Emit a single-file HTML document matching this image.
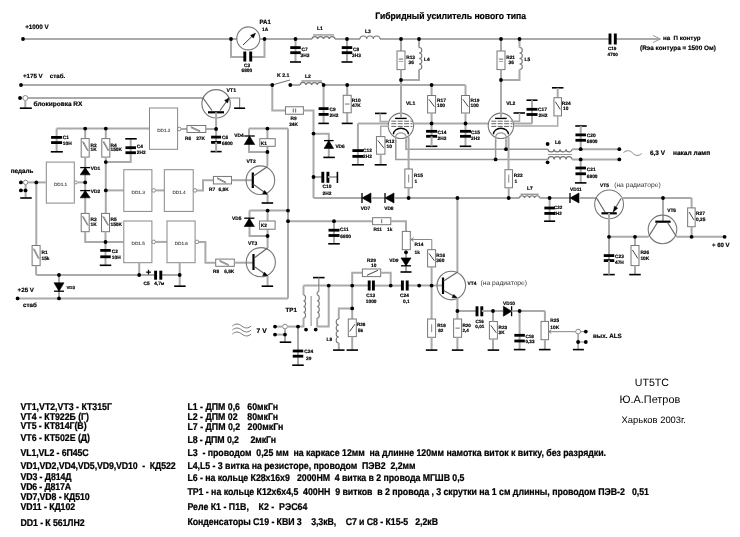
<!DOCTYPE html>
<html><head><meta charset="utf-8"><style>
html,body{margin:0;padding:0;background:#fff;width:740px;height:537px;overflow:hidden}
svg{display:block;filter:grayscale(1)}
text{font-family:"Liberation Sans",sans-serif;text-rendering:geometricPrecision;white-space:pre}
</style></head><body>
<svg width="740" height="537" viewBox="0 0 740 537">
<rect width="740" height="537" fill="#fff"/>
<text x="25.2" y="29" font-size="6.3" font-weight="bold" fill="#000" stroke="#000" stroke-width="0.18" xml:space="preserve">+1000 V</text>
<text transform="translate(375.3,19.1) scale(1,1.08)" x="0" y="0" font-size="8.62" font-weight="bold" fill="#000" stroke="#000" stroke-width="0.2" xml:space="preserve">Гибридный усилитель нового типа</text>
<polyline points="23,39 237,39" fill="none" stroke="#aaa" stroke-width="2"/>
<polyline points="260,39 312,39" fill="none" stroke="#aaa" stroke-width="2"/>
<polyline points="335,39 360,39" fill="none" stroke="#aaa" stroke-width="2"/>
<polyline points="380,39 610,39" fill="none" stroke="#aaa" stroke-width="2"/>
<polyline points="615,39 660,39" fill="none" stroke="#aaa" stroke-width="2"/>
<circle cx="248.3" cy="38.4" r="11.5" fill="none" stroke="#777" stroke-width="1.1"/>
<polyline points="243,45 254,34.5" fill="none" stroke="#222" stroke-width="0.9"/>
<path d="M255.4,33.2 L250.6,35.4 L253.4,38 Z" fill="#000" stroke="#000" stroke-width="0.6"/>
<polyline points="231,39 231,57 244.5,57" fill="none" stroke="#aaa" stroke-width="2"/>
<polyline points="251,57 264.5,57 264.5,39" fill="none" stroke="#aaa" stroke-width="2"/>
<rect x="243.35" y="51.5" width="2.9" height="10" fill="#000"/>
<rect x="249.25" y="51.5" width="2.9" height="10" fill="#000"/>
<text x="259.5" y="24.3" font-size="6.1" font-weight="bold" fill="#000" stroke="#000" stroke-width="0.18" xml:space="preserve">PA1</text>
<text x="262" y="30.5" font-size="4.8" font-weight="bold" fill="#000" stroke="#000" stroke-width="0.18" xml:space="preserve">1A</text>
<text x="244" y="66.5" font-size="4.8" font-weight="bold" fill="#000" stroke="#000" stroke-width="0.18" xml:space="preserve">C3</text>
<text x="241.5" y="72" font-size="4.8" font-weight="bold" fill="#000" stroke="#000" stroke-width="0.18" xml:space="preserve">6800</text>
<polyline points="295.5,39 295.5,61.5" fill="none" stroke="#aaa" stroke-width="2"/>
<rect x="290.25" y="46.2" width="10.5" height="2.8" fill="#000"/>
<rect x="290.25" y="51.3" width="10.5" height="2.8" fill="#000"/>
<rect x="290" y="61.2" width="11" height="1.6" fill="#000"/>
<text x="301.5" y="51" font-size="4.8" font-weight="bold" fill="#000" stroke="#000" stroke-width="0.18" xml:space="preserve">C7</text>
<text x="300.5" y="57.3" font-size="4.8" font-weight="bold" fill="#000" stroke="#000" stroke-width="0.18" xml:space="preserve">3H3</text>
<path d="M312,39 A2.88,2.59 0 0 1 317.75,39 A2.88,2.59 0 0 1 323.5,39 A2.88,2.59 0 0 1 329.25,39 A2.88,2.59 0 0 1 335,39" fill="none" stroke="#777" stroke-width="1.2"/>
<polyline points="313,34.91 334,34.91" fill="none" stroke="#888" stroke-width="1.2"/>
<text x="317" y="30.3" font-size="5" font-weight="bold" fill="#000" stroke="#000" stroke-width="0.18" xml:space="preserve">L1</text>
<polyline points="347,39 347,61.5" fill="none" stroke="#aaa" stroke-width="2"/>
<rect x="341.75" y="46.2" width="10.5" height="2.8" fill="#000"/>
<rect x="341.75" y="51.3" width="10.5" height="2.8" fill="#000"/>
<rect x="341.5" y="61.2" width="11" height="1.6" fill="#000"/>
<text x="353" y="51" font-size="4.8" font-weight="bold" fill="#000" stroke="#000" stroke-width="0.18" xml:space="preserve">C8</text>
<text x="352" y="57.3" font-size="4.8" font-weight="bold" fill="#000" stroke="#000" stroke-width="0.18" xml:space="preserve">3H3</text>
<path d="M360,39 A3.33,3 0 0 1 366.67,39 A3.33,3 0 0 1 373.33,39 A3.33,3 0 0 1 380,39" fill="none" stroke="#777" stroke-width="1.2"/>
<text x="365" y="32.5" font-size="5" font-weight="bold" fill="#000" stroke="#000" stroke-width="0.18" xml:space="preserve">L3</text>
<polyline points="401,39 401,51" fill="none" stroke="#aaa" stroke-width="2"/>
<rect x="397" y="51" width="8" height="18.6" fill="#fff" stroke="#777" stroke-width="1"/>
<polyline points="398.8,59.1 403.2,59.1" fill="none" stroke="#666" stroke-width="1"/>
<polyline points="398.8,61.5 403.2,61.5" fill="none" stroke="#aaa" stroke-width="1"/>
<polyline points="401,69.6 401,115" fill="none" stroke="#aaa" stroke-width="2"/>
<polyline points="419,39 419,47.5" fill="none" stroke="#aaa" stroke-width="2"/>
<path d="M419,47.5 A2.8,2.75 0 0 1 419,53 A2.8,2.75 0 0 1 419,58.5 A2.8,2.75 0 0 1 419,64 A2.8,2.75 0 0 1 419,69.5" fill="none" stroke="#777" stroke-width="1.1"/>
<polyline points="419,69.5 419,80 401,80" fill="none" stroke="#aaa" stroke-width="2"/>
<text x="406.2" y="58.5" font-size="4.8" font-weight="bold" fill="#000" stroke="#000" stroke-width="0.18" xml:space="preserve">R13</text>
<text x="408.5" y="63.7" font-size="4.8" font-weight="bold" fill="#000" stroke="#000" stroke-width="0.18" xml:space="preserve">36</text>
<text x="424" y="61.3" font-size="4.8" font-weight="bold" fill="#000" stroke="#000" stroke-width="0.18" xml:space="preserve">L4</text>
<polyline points="501,39 501,51" fill="none" stroke="#aaa" stroke-width="2"/>
<rect x="497" y="51" width="8" height="18.6" fill="#fff" stroke="#777" stroke-width="1"/>
<polyline points="498.8,59.1 503.2,59.1" fill="none" stroke="#666" stroke-width="1"/>
<polyline points="498.8,61.5 503.2,61.5" fill="none" stroke="#aaa" stroke-width="1"/>
<polyline points="501,69.6 501,115" fill="none" stroke="#aaa" stroke-width="2"/>
<polyline points="519.5,39 519.5,47.5" fill="none" stroke="#aaa" stroke-width="2"/>
<path d="M519.5,47.5 A2.8,2.75 0 0 1 519.5,53 A2.8,2.75 0 0 1 519.5,58.5 A2.8,2.75 0 0 1 519.5,64 A2.8,2.75 0 0 1 519.5,69.5" fill="none" stroke="#777" stroke-width="1.1"/>
<polyline points="519.5,69.5 519.5,80 501,80" fill="none" stroke="#aaa" stroke-width="2"/>
<text x="506.2" y="58.5" font-size="4.8" font-weight="bold" fill="#000" stroke="#000" stroke-width="0.18" xml:space="preserve">R21</text>
<text x="508.5" y="63.7" font-size="4.8" font-weight="bold" fill="#000" stroke="#000" stroke-width="0.18" xml:space="preserve">36</text>
<text x="524.5" y="61.3" font-size="4.8" font-weight="bold" fill="#000" stroke="#000" stroke-width="0.18" xml:space="preserve">L5</text>
<rect x="608.55" y="33.5" width="2.9" height="11" fill="#000"/>
<rect x="613.85" y="33.5" width="2.9" height="11" fill="#000"/>
<text x="608" y="49.6" font-size="4.6" font-weight="bold" fill="#000" stroke="#000" stroke-width="0.18" xml:space="preserve">C19</text>
<text x="607.6" y="55.8" font-size="4.6" font-weight="bold" fill="#000" stroke="#000" stroke-width="0.18" xml:space="preserve">4700</text>
<path d="M653,35.5 L660.5,39 L653,42.5" fill="none" stroke="#999" stroke-width="1"/>
<text x="663" y="40.2" font-size="6.2" font-weight="bold" fill="#000" stroke="#000" stroke-width="0.18" xml:space="preserve">на  П контур</text>
<text x="640" y="50.3" font-size="6.4" font-weight="bold" fill="#000" stroke="#000" stroke-width="0.18" xml:space="preserve">(Rэа контура = 1500 Ом)</text>
<text x="22.9" y="78" font-size="6.2" font-weight="bold" fill="#000" stroke="#000" stroke-width="0.18" xml:space="preserve">+175 V</text>
<text x="49.8" y="78" font-size="6.2" font-weight="bold" fill="#000" stroke="#000" stroke-width="0.18" xml:space="preserve">стаб.</text>
<polyline points="21,85 272,85" fill="none" stroke="#aaa" stroke-width="2"/>
<polyline points="272.3,85 290,80" fill="none" stroke="#777" stroke-width="1.2"/>
<polyline points="290,85 300,85" fill="none" stroke="#aaa" stroke-width="2"/>
<path d="M300.3,85 A2.84,2.55 0 0 1 305.98,85 A2.84,2.55 0 0 1 311.65,85 A2.84,2.55 0 0 1 317.32,85 A2.84,2.55 0 0 1 323,85" fill="none" stroke="#777" stroke-width="1.2"/>
<polyline points="301.3,80.95 322,80.95" fill="none" stroke="#888" stroke-width="1.2"/>
<polyline points="323,85 465.5,85" fill="none" stroke="#aaa" stroke-width="2"/>
<text x="277" y="77" font-size="5.2" font-weight="bold" fill="#000" stroke="#000" stroke-width="0.18" xml:space="preserve">K 2.1</text>
<text x="305" y="77.6" font-size="5" font-weight="bold" fill="#000" stroke="#000" stroke-width="0.18" xml:space="preserve">L2</text>
<polyline points="323.6,85 323.6,123" fill="none" stroke="#aaa" stroke-width="2"/>
<rect x="318.6" y="107.2" width="10" height="2.8" fill="#000"/>
<rect x="318.6" y="113" width="10" height="2.8" fill="#000"/>
<rect x="318.35" y="122.6" width="10.5" height="1.6" fill="#000"/>
<text x="329.6" y="110.6" font-size="4.8" font-weight="bold" fill="#000" stroke="#000" stroke-width="0.18" xml:space="preserve">C9</text>
<text x="329.6" y="117" font-size="4.8" font-weight="bold" fill="#000" stroke="#000" stroke-width="0.18" xml:space="preserve">2H2</text>
<polyline points="347.2,85 347.2,123" fill="none" stroke="#aaa" stroke-width="2"/>
<rect x="343.2" y="95.3" width="8" height="17.5" fill="#fff" stroke="#777" stroke-width="1"/>
<polyline points="345,104.05 349.4,104.05" fill="none" stroke="#888" stroke-width="1.2"/>
<rect x="341.7" y="122.6" width="11" height="1.6" fill="#000"/>
<text x="351.8" y="102" font-size="4.8" font-weight="bold" fill="#000" stroke="#000" stroke-width="0.18" xml:space="preserve">R10</text>
<text x="352" y="107.3" font-size="4.8" font-weight="bold" fill="#000" stroke="#000" stroke-width="0.18" xml:space="preserve">47K</text>
<polyline points="272.3,85 272.3,110.5 285.5,110.5" fill="none" stroke="#aaa" stroke-width="2"/>
<rect x="285.5" y="106.75" width="17.9" height="7.5" fill="#fff" stroke="#777" stroke-width="1"/>
<polyline points="293.25,108.5 293.25,112.5" fill="none" stroke="#666" stroke-width="1"/>
<polyline points="295.65,108.5 295.65,112.5" fill="none" stroke="#666" stroke-width="1"/>
<polyline points="303.4,110.5 313.5,110.5 313.5,198" fill="none" stroke="#aaa" stroke-width="2"/>
<text x="290.5" y="119.5" font-size="4.8" font-weight="bold" fill="#000" stroke="#000" stroke-width="0.18" xml:space="preserve">R9</text>
<text x="289.2" y="126" font-size="4.8" font-weight="bold" fill="#000" stroke="#000" stroke-width="0.18" xml:space="preserve">24K</text>
<circle cx="25.3" cy="98" r="2.5" fill="#fff" stroke="#888" stroke-width="1"/>
<polyline points="27.8,98 203,98" fill="none" stroke="#aaa" stroke-width="2"/>
<polyline points="20,98 22.8,98" fill="none" stroke="#aaa" stroke-width="2"/>
<polyline points="25.3,100.5 25.3,108" fill="none" stroke="#aaa" stroke-width="2"/>
<rect x="19.8" y="107.4" width="12" height="1.6" fill="#000"/>
<text x="33.6" y="106.1" font-size="6.5" font-weight="bold" fill="#000" stroke="#000" stroke-width="0.18" xml:space="preserve">блокировка RX</text>
<circle cx="216.1" cy="103.8" r="14.2" fill="none" stroke="#777" stroke-width="1.1"/>
<polyline points="203,98 212,110.5" fill="none" stroke="#666" stroke-width="1.2"/>
<polyline points="220,110.5 229,98" fill="none" stroke="#666" stroke-width="1.2"/>
<path d="M229,98 L224.6,100.4 L227.6,103 Z" fill="#000" stroke="#000" stroke-width="0.5"/>
<polyline points="229,98 239.6,98 239.6,108" fill="none" stroke="#888" stroke-width="1.2"/>
<rect x="234.1" y="107.4" width="11" height="1.6" fill="#000"/>
<rect x="208" y="111.2" width="16" height="2.2" fill="#000"/>
<polyline points="216.1,112.3 216.1,143" fill="none" stroke="#aaa" stroke-width="2"/>
<text x="226.5" y="91.8" font-size="5.2" font-weight="bold" fill="#000" stroke="#000" stroke-width="0.18" xml:space="preserve">VT1</text>
<polyline points="56.6,128.6 149.5,128.6" fill="none" stroke="#aaa" stroke-width="2"/>
<polyline points="56.6,128.6 56.6,151" fill="none" stroke="#aaa" stroke-width="2"/>
<rect x="51.1" y="136" width="11" height="2.8" fill="#000"/>
<rect x="51.1" y="141.2" width="11" height="2.8" fill="#000"/>
<rect x="50.8" y="151" width="12" height="1.6" fill="#000"/>
<text x="62.8" y="139.2" font-size="4.8" font-weight="bold" fill="#000" stroke="#000" stroke-width="0.18" xml:space="preserve">C1</text>
<text x="62.8" y="144.8" font-size="4.8" font-weight="bold" fill="#000" stroke="#000" stroke-width="0.18" xml:space="preserve">10H</text>
<polyline points="85.2,128.6 85.2,138.6" fill="none" stroke="#aaa" stroke-width="2"/>
<rect x="81.2" y="138.6" width="8" height="18.5" fill="#fff" stroke="#777" stroke-width="1"/>
<polyline points="82.4,141.56 87.6,150.81" fill="none" stroke="#666" stroke-width="0.9"/>
<polyline points="83.4,141.56 88.4,150.81" fill="none" stroke="#888" stroke-width="0.9"/>
<polyline points="85.2,157.1 85.2,213.4" fill="none" stroke="#aaa" stroke-width="2"/>
<path d="M85.2,167.6 L80.2,174.8 L90.2,174.8 Z" fill="#000" stroke="#000" stroke-width="0.6"/>
<rect x="80.2" y="166.95" width="10" height="1.3" fill="#000"/>
<path d="M85.2,190.6 L80.2,197.8 L90.2,197.8 Z" fill="#000" stroke="#000" stroke-width="0.6"/>
<rect x="80.2" y="189.95" width="10" height="1.3" fill="#000"/>
<rect x="81.2" y="213.4" width="8" height="18.3" fill="#fff" stroke="#777" stroke-width="1"/>
<polyline points="82.4,216.33 87.6,225.48" fill="none" stroke="#666" stroke-width="0.9"/>
<polyline points="83.4,216.33 88.4,225.48" fill="none" stroke="#888" stroke-width="0.9"/>
<polyline points="85.2,231.7 85.2,242 123.8,242" fill="none" stroke="#aaa" stroke-width="2"/>
<text x="90.5" y="146.5" font-size="4.8" font-weight="bold" fill="#000" stroke="#000" stroke-width="0.18" xml:space="preserve">R2</text>
<text x="90.5" y="151.2" font-size="4.8" font-weight="bold" fill="#000" stroke="#000" stroke-width="0.18" xml:space="preserve">1K</text>
<text x="90.8" y="169.5" font-size="4.8" font-weight="bold" fill="#000" stroke="#000" stroke-width="0.18" xml:space="preserve">VD1</text>
<text x="90.8" y="192.6" font-size="4.8" font-weight="bold" fill="#000" stroke="#000" stroke-width="0.18" xml:space="preserve">VD2</text>
<text x="90.5" y="221.3" font-size="4.8" font-weight="bold" fill="#000" stroke="#000" stroke-width="0.18" xml:space="preserve">R3</text>
<text x="90.5" y="226" font-size="4.8" font-weight="bold" fill="#000" stroke="#000" stroke-width="0.18" xml:space="preserve">1K</text>
<polyline points="105.8,128.6 105.8,138.6" fill="none" stroke="#aaa" stroke-width="2"/>
<rect x="101.8" y="138.6" width="8" height="18.5" fill="#fff" stroke="#777" stroke-width="1"/>
<polyline points="103,141.56 108.2,150.81" fill="none" stroke="#666" stroke-width="0.9"/>
<polyline points="104,141.56 109,150.81" fill="none" stroke="#888" stroke-width="0.9"/>
<polyline points="105.8,157.1 105.8,213.4" fill="none" stroke="#aaa" stroke-width="2"/>
<rect x="101.5" y="213.4" width="8" height="18.3" fill="#fff" stroke="#777" stroke-width="1"/>
<polyline points="102.7,216.33 107.9,225.48" fill="none" stroke="#666" stroke-width="0.9"/>
<polyline points="103.7,216.33 108.7,225.48" fill="none" stroke="#888" stroke-width="0.9"/>
<polyline points="105.5,231.7 105.5,265" fill="none" stroke="#aaa" stroke-width="2"/>
<text x="110.5" y="146.5" font-size="4.8" font-weight="bold" fill="#000" stroke="#000" stroke-width="0.18" xml:space="preserve">R4</text>
<text x="110.5" y="151.2" font-size="4.8" font-weight="bold" fill="#000" stroke="#000" stroke-width="0.18" xml:space="preserve">150K</text>
<text x="110.5" y="221.3" font-size="4.8" font-weight="bold" fill="#000" stroke="#000" stroke-width="0.18" xml:space="preserve">R5</text>
<text x="110.5" y="226" font-size="4.8" font-weight="bold" fill="#000" stroke="#000" stroke-width="0.18" xml:space="preserve">150K</text>
<polyline points="105.8,162.1 130.7,162.1 130.7,138.8" fill="none" stroke="#aaa" stroke-width="2"/>
<rect x="125.45" y="146.3" width="10.5" height="2.8" fill="#000"/>
<rect x="125.45" y="151.3" width="10.5" height="2.8" fill="#000"/>
<rect x="125.25" y="138" width="11.5" height="1.6" fill="#000"/>
<text x="136.8" y="148" font-size="4.8" font-weight="bold" fill="#000" stroke="#000" stroke-width="0.18" xml:space="preserve">C4</text>
<text x="136.8" y="153.6" font-size="4.8" font-weight="bold" fill="#000" stroke="#000" stroke-width="0.18" xml:space="preserve">2H2</text>
<rect x="100.25" y="249" width="10.5" height="2.8" fill="#000"/>
<rect x="100.25" y="255.4" width="10.5" height="2.8" fill="#000"/>
<rect x="99.75" y="264.5" width="11.5" height="1.6" fill="#000"/>
<text x="111.8" y="253" font-size="4.8" font-weight="bold" fill="#000" stroke="#000" stroke-width="0.18" xml:space="preserve">C2</text>
<text x="111.8" y="259.3" font-size="4.8" font-weight="bold" fill="#000" stroke="#000" stroke-width="0.18" xml:space="preserve">10H</text>
<rect x="46.3" y="162.1" width="28" height="41" fill="#fff" stroke="#888" stroke-width="1"/>
<text x="60.6" y="185.9" font-size="4.7" font-weight="normal" fill="#333" stroke="#333" stroke-width="0.1" text-anchor="middle" xml:space="preserve">DD1.1</text>
<circle cx="75.9" cy="182.4" r="1.5" fill="#fff" stroke="#888" stroke-width="1"/>
<polyline points="77.9,182.4 85.2,182.4" fill="none" stroke="#aaa" stroke-width="2"/>
<text x="10.8" y="173.2" font-size="6.3" font-weight="bold" fill="#000" stroke="#000" stroke-width="0.18" xml:space="preserve">педаль</text>
<circle cx="25.6" cy="182.4" r="2.2" fill="#fff" stroke="#888" stroke-width="1"/>
<polyline points="27.8,182.4 46.3,182.4" fill="none" stroke="#aaa" stroke-width="2"/>
<polyline points="20.9,182.4 23.4,182.4" fill="none" stroke="#aaa" stroke-width="2"/>
<polyline points="20.9,190.4 25.6,190.4" fill="none" stroke="#aaa" stroke-width="2"/>
<polyline points="25.6,184.6 25.6,197.8" fill="none" stroke="#aaa" stroke-width="2"/>
<rect x="20.25" y="197.2" width="11.5" height="1.6" fill="#000"/>
<polyline points="36.3,182.4 36.3,245.5" fill="none" stroke="#aaa" stroke-width="2"/>
<rect x="32.1" y="245.5" width="8" height="20.1" fill="#fff" stroke="#777" stroke-width="1"/>
<polyline points="33.3,248.72 38.5,258.77" fill="none" stroke="#666" stroke-width="0.9"/>
<polyline points="34.3,248.72 39.3,258.77" fill="none" stroke="#888" stroke-width="0.9"/>
<polyline points="36.1,265.6 36.1,275" fill="none" stroke="#aaa" stroke-width="2"/>
<text x="41.5" y="253.6" font-size="4.8" font-weight="bold" fill="#000" stroke="#000" stroke-width="0.18" xml:space="preserve">R1</text>
<text x="41.5" y="259.8" font-size="4.8" font-weight="bold" fill="#000" stroke="#000" stroke-width="0.18" xml:space="preserve">15k</text>
<rect x="149.5" y="108" width="28.1" height="41.3" fill="#fff" stroke="#888" stroke-width="1"/>
<text x="163.85" y="131.95" font-size="4.7" font-weight="normal" fill="#333" stroke="#333" stroke-width="0.1" text-anchor="middle" xml:space="preserve">DD1.2</text>
<circle cx="179.3" cy="129" r="1.8" fill="#fff" stroke="#888" stroke-width="1"/>
<polyline points="181,129 187,129" fill="none" stroke="#aaa" stroke-width="2"/>
<rect x="187" y="125.5" width="18.8" height="7" fill="#fff" stroke="#777" stroke-width="1"/>
<polyline points="190.76,126.7 200.16,130.9" fill="none" stroke="#666" stroke-width="0.9"/>
<polyline points="190.76,127.7 200.16,131.9" fill="none" stroke="#888" stroke-width="0.9"/>
<polyline points="205.8,129 216.1,129" fill="none" stroke="#aaa" stroke-width="2"/>
<text x="185" y="139.6" font-size="4.8" font-weight="bold" fill="#000" stroke="#000" stroke-width="0.18" xml:space="preserve">R6</text>
<text x="196.2" y="139.6" font-size="4.8" font-weight="bold" fill="#000" stroke="#000" stroke-width="0.18" xml:space="preserve">27K</text>
<rect x="211.1" y="135.7" width="10" height="2.8" fill="#000"/>
<rect x="211.1" y="141" width="10" height="2.8" fill="#000"/>
<rect x="210.6" y="150.8" width="11" height="1.6" fill="#000"/>
<polyline points="216.1,142 216.1,151.6" fill="none" stroke="#aaa" stroke-width="2"/>
<text x="222" y="138.6" font-size="4.8" font-weight="bold" fill="#000" stroke="#000" stroke-width="0.18" xml:space="preserve">C6</text>
<text x="222" y="144.6" font-size="4.8" font-weight="bold" fill="#000" stroke="#000" stroke-width="0.18" xml:space="preserve">6800</text>
<polyline points="105.8,190.4 123.8,190.4" fill="none" stroke="#aaa" stroke-width="2"/>
<rect x="123.8" y="169.7" width="28.1" height="41.7" fill="#fff" stroke="#888" stroke-width="1"/>
<text x="138.15" y="193.85" font-size="4.7" font-weight="normal" fill="#333" stroke="#333" stroke-width="0.1" text-anchor="middle" xml:space="preserve">DD1.3</text>
<circle cx="153.7" cy="190.4" r="1.8" fill="#fff" stroke="#888" stroke-width="1"/>
<polyline points="155.5,190.4 164.3,190.4" fill="none" stroke="#aaa" stroke-width="2"/>
<rect x="164.3" y="169.7" width="28.9" height="41.7" fill="#fff" stroke="#888" stroke-width="1"/>
<text x="179.05" y="193.85" font-size="4.7" font-weight="normal" fill="#333" stroke="#333" stroke-width="0.1" text-anchor="middle" xml:space="preserve">DD1.4</text>
<circle cx="195" cy="190.4" r="1.8" fill="#fff" stroke="#888" stroke-width="1"/>
<polyline points="196.8,190.4 203,190.4 203,180.2 213.4,180.2" fill="none" stroke="#aaa" stroke-width="2"/>
<rect x="213.4" y="176.45" width="18.1" height="7.5" fill="#fff" stroke="#777" stroke-width="1"/>
<polyline points="217.02,177.65 226.07,182.35" fill="none" stroke="#666" stroke-width="0.9"/>
<polyline points="217.02,178.65 226.07,183.35" fill="none" stroke="#888" stroke-width="0.9"/>
<polyline points="231.5,180.2 252.8,180.2" fill="none" stroke="#aaa" stroke-width="2"/>
<text x="209" y="190.6" font-size="4.8" font-weight="bold" fill="#000" stroke="#000" stroke-width="0.18" xml:space="preserve">R7</text>
<text x="218.5" y="190.6" font-size="4.8" font-weight="bold" fill="#000" stroke="#000" stroke-width="0.18" xml:space="preserve">6,8K</text>
<rect x="123.8" y="221" width="28.1" height="41.7" fill="#fff" stroke="#888" stroke-width="1"/>
<text x="138.15" y="245.15" font-size="4.7" font-weight="normal" fill="#333" stroke="#333" stroke-width="0.1" text-anchor="middle" xml:space="preserve">DD1.5</text>
<circle cx="153.7" cy="241.9" r="1.8" fill="#fff" stroke="#888" stroke-width="1"/>
<polyline points="155.5,241.9 167,241.9" fill="none" stroke="#aaa" stroke-width="2"/>
<rect x="167" y="221" width="28.1" height="41.7" fill="#fff" stroke="#888" stroke-width="1"/>
<text x="181.35" y="245.15" font-size="4.7" font-weight="normal" fill="#333" stroke="#333" stroke-width="0.1" text-anchor="middle" xml:space="preserve">DD1.6</text>
<circle cx="196.9" cy="241.9" r="1.8" fill="#fff" stroke="#888" stroke-width="1"/>
<polyline points="198.7,241.9 205.4,241.9 205.4,262.7 215.7,262.7" fill="none" stroke="#aaa" stroke-width="2"/>
<rect x="215.7" y="259.1" width="18.6" height="7.2" fill="#fff" stroke="#777" stroke-width="1"/>
<polyline points="219.42,260.3 228.72,264.7" fill="none" stroke="#666" stroke-width="0.9"/>
<polyline points="219.42,261.3 228.72,265.7" fill="none" stroke="#888" stroke-width="0.9"/>
<polyline points="234.3,262.7 253.5,262.7" fill="none" stroke="#aaa" stroke-width="2"/>
<text x="213" y="273.3" font-size="4.8" font-weight="bold" fill="#000" stroke="#000" stroke-width="0.18" xml:space="preserve">R8</text>
<text x="224.2" y="273.3" font-size="4.8" font-weight="bold" fill="#000" stroke="#000" stroke-width="0.18" xml:space="preserve">6,8K</text>
<polyline points="139.2,262.7 139.2,275" fill="none" stroke="#aaa" stroke-width="2"/>
<polyline points="179.7,262.7 179.7,286" fill="none" stroke="#aaa" stroke-width="2"/>
<rect x="174.15" y="285.4" width="11.5" height="1.6" fill="#000"/>
<polyline points="36.1,275 155.4,275" fill="none" stroke="#aaa" stroke-width="2"/>
<polyline points="160.8,275 179.7,275" fill="none" stroke="#aaa" stroke-width="2"/>
<rect x="154.15" y="270.7" width="2.9" height="9" fill="#000"/>
<rect x="159.35" y="270.7" width="2.9" height="9" fill="#000"/>
<text x="146" y="274.8" font-size="8.5" font-weight="bold" fill="#000" stroke="#000" stroke-width="0.3" xml:space="preserve">+</text>
<text x="143.6" y="285.3" font-size="4.8" font-weight="bold" fill="#000" stroke="#000" stroke-width="0.18" xml:space="preserve">C5</text>
<text x="154.2" y="285.3" font-size="4.8" font-weight="bold" fill="#000" stroke="#000" stroke-width="0.18" xml:space="preserve">4,7м</text>
<polyline points="59,275 59,298.4" fill="none" stroke="#aaa" stroke-width="2"/>
<path d="M59,291.2 L54,282.8 L64,282.8 Z" fill="#000" stroke="#000" stroke-width="0.6"/>
<rect x="54" y="290.55" width="10" height="1.3" fill="#000"/>
<text x="66.4" y="289.4" font-size="4.4" font-weight="bold" fill="#000" stroke="#000" stroke-width="0.18" xml:space="preserve">VD3</text>
<text x="17.6" y="291.5" font-size="6.2" font-weight="bold" fill="#000" stroke="#000" stroke-width="0.18" xml:space="preserve">+25 V</text>
<text x="23" y="306.5" font-size="6.2" font-weight="bold" fill="#000" stroke="#000" stroke-width="0.18" xml:space="preserve">стаб</text>
<polyline points="17.6,298.4 288,298.4" fill="none" stroke="#aaa" stroke-width="2"/>
<polyline points="288,128.6 288,298.4" fill="none" stroke="#aaa" stroke-width="2"/>
<polyline points="249,128.6 288,128.6" fill="none" stroke="#aaa" stroke-width="2"/>
<polyline points="249,128.6 249,152 267.4,152" fill="none" stroke="#aaa" stroke-width="2"/>
<path d="M249.5,136 L244.25,144.5 L254.75,144.5 Z" fill="#000" stroke="#000" stroke-width="0.6"/>
<rect x="244.25" y="135.35" width="10.5" height="1.3" fill="#000"/>
<polyline points="267.4,128.6 267.4,166" fill="none" stroke="#aaa" stroke-width="2"/>
<rect x="259.8" y="138.7" width="15.4" height="7.6" fill="#fff" stroke="#777" stroke-width="1"/>
<text x="260.8" y="144.7" font-size="4.8" font-weight="bold" fill="#000" stroke="#000" stroke-width="0.18" xml:space="preserve">K1</text>
<text x="234.3" y="137" font-size="4.8" font-weight="bold" fill="#000" stroke="#000" stroke-width="0.18" xml:space="preserve">VD4</text>
<circle cx="260.4" cy="180.2" r="14.3" fill="none" stroke="#777" stroke-width="1.1"/>
<rect x="251.7" y="172.5" width="2.2" height="15.5" fill="#000"/>
<polyline points="253.5,176 267.6,166.5" fill="none" stroke="#666" stroke-width="1.2"/>
<polyline points="253.5,184.5 267.6,194.5" fill="none" stroke="#666" stroke-width="1.2"/>
<path d="M267.6,194.5 L262.5,193.8 L264.7,190.4 Z" fill="#000" stroke="#000" stroke-width="0.5"/>
<polyline points="267.6,194.5 267.6,202.8" fill="none" stroke="#aaa" stroke-width="2"/>
<rect x="261.65" y="202.2" width="11.5" height="1.6" fill="#000"/>
<text x="246.5" y="162.6" font-size="5" font-weight="bold" fill="#000" stroke="#000" stroke-width="0.18" xml:space="preserve">VT2</text>
<polyline points="249.5,210.6 288,210.6" fill="none" stroke="#aaa" stroke-width="2"/>
<polyline points="249.5,210.6 249.5,236 267.6,236" fill="none" stroke="#aaa" stroke-width="2"/>
<path d="M249.3,218.2 L244.2,226.5 L254.4,226.5 Z" fill="#000" stroke="#000" stroke-width="0.6"/>
<rect x="244.2" y="217.55" width="10.2" height="1.3" fill="#000"/>
<polyline points="267.6,210.6 267.6,248" fill="none" stroke="#aaa" stroke-width="2"/>
<rect x="259.5" y="221" width="15.6" height="8.2" fill="#fff" stroke="#777" stroke-width="1"/>
<text x="260.8" y="227.3" font-size="4.8" font-weight="bold" fill="#000" stroke="#000" stroke-width="0.18" xml:space="preserve">K2</text>
<text x="232" y="220.4" font-size="4.8" font-weight="bold" fill="#000" stroke="#000" stroke-width="0.18" xml:space="preserve">VD5</text>
<circle cx="260.8" cy="262.2" r="14.6" fill="none" stroke="#777" stroke-width="1.1"/>
<rect x="252.4" y="254" width="2.2" height="16" fill="#000"/>
<polyline points="254.2,258 267.6,248" fill="none" stroke="#666" stroke-width="1.2"/>
<polyline points="254.2,266.5 267.6,276" fill="none" stroke="#666" stroke-width="1.2"/>
<path d="M267.6,276 L262.6,275.6 L264.6,272.2 Z" fill="#000" stroke="#000" stroke-width="0.5"/>
<polyline points="267.6,276 267.6,286" fill="none" stroke="#aaa" stroke-width="2"/>
<rect x="261.65" y="285.4" width="11.5" height="1.6" fill="#000"/>
<text x="248" y="245.3" font-size="5" font-weight="bold" fill="#000" stroke="#000" stroke-width="0.18" xml:space="preserve">VT3</text>
<polyline points="313.5,133.8 328.8,133.8 328.8,157" fill="none" stroke="#aaa" stroke-width="2"/>
<path d="M328.8,140.6 L324.05,148.4 L333.55,148.4 Z" fill="#000" stroke="#000" stroke-width="0.6"/>
<rect x="324.05" y="139.95" width="9.5" height="1.3" fill="#000"/>
<rect x="323.35" y="156.6" width="11.5" height="1.6" fill="#000"/>
<text x="335.4" y="147.8" font-size="4.8" font-weight="bold" fill="#000" stroke="#000" stroke-width="0.18" xml:space="preserve">VD6</text>
<polyline points="313.5,177 322.7,177" fill="none" stroke="#aaa" stroke-width="2"/>
<rect x="321.35" y="171.8" width="2.9" height="11" fill="#000"/>
<rect x="326.45" y="171.8" width="2.9" height="11" fill="#000"/>
<polyline points="327.9,177 337.2,177" fill="none" stroke="#aaa" stroke-width="2"/>
<rect x="336.6" y="171.8" width="1.6" height="11.2" fill="#000"/>
<text x="322.5" y="188.2" font-size="4.8" font-weight="bold" fill="#000" stroke="#000" stroke-width="0.18" xml:space="preserve">C10</text>
<text x="322.5" y="194.6" font-size="4.8" font-weight="bold" fill="#000" stroke="#000" stroke-width="0.18" xml:space="preserve">2H2</text>
<polyline points="313.5,198 362,198" fill="none" stroke="#aaa" stroke-width="2"/>
<path d="M362,198 L371,193 L371,203 Z" fill="#000" stroke="#000" stroke-width="0.6"/>
<rect x="361.35" y="193" width="1.3" height="10" fill="#000"/>
<polyline points="371,198 385,198" fill="none" stroke="#aaa" stroke-width="2"/>
<path d="M385,198 L394,193 L394,203 Z" fill="#000" stroke="#000" stroke-width="0.6"/>
<rect x="384.35" y="193" width="1.3" height="10" fill="#000"/>
<polyline points="394,198 519.5,198" fill="none" stroke="#aaa" stroke-width="2"/>
<text x="360.8" y="209.5" font-size="4.8" font-weight="bold" fill="#000" stroke="#000" stroke-width="0.18" xml:space="preserve">VD7</text>
<text x="384.2" y="209.5" font-size="4.8" font-weight="bold" fill="#000" stroke="#000" stroke-width="0.18" xml:space="preserve">VD8</text>
<polyline points="357.9,123.5 357.9,164.7" fill="none" stroke="#aaa" stroke-width="2"/>
<rect x="352.4" y="149.2" width="11" height="2.8" fill="#000"/>
<rect x="352.4" y="155" width="11" height="2.8" fill="#000"/>
<rect x="351.9" y="164" width="12" height="1.6" fill="#000"/>
<polyline points="357.9,123.5 389,123.5" fill="none" stroke="#aaa" stroke-width="2"/>
<text x="363" y="152" font-size="4.8" font-weight="bold" fill="#000" stroke="#000" stroke-width="0.18" xml:space="preserve">C12</text>
<text x="363" y="158.2" font-size="4.8" font-weight="bold" fill="#000" stroke="#000" stroke-width="0.18" xml:space="preserve">2H2</text>
<polyline points="288,221.2 372.6,221.2" fill="none" stroke="#aaa" stroke-width="2"/>
<polyline points="334,221.2 334,243.6" fill="none" stroke="#aaa" stroke-width="2"/>
<rect x="328.5" y="228.8" width="11" height="2.8" fill="#000"/>
<rect x="328.5" y="234.1" width="11" height="2.8" fill="#000"/>
<rect x="328.25" y="243" width="11.5" height="1.6" fill="#000"/>
<text x="340.1" y="231" font-size="4.8" font-weight="bold" fill="#000" stroke="#000" stroke-width="0.18" xml:space="preserve">C11</text>
<text x="340.3" y="238" font-size="4.8" font-weight="bold" fill="#000" stroke="#000" stroke-width="0.18" xml:space="preserve">6800</text>
<rect x="372.6" y="217.7" width="18.2" height="7" fill="#fff" stroke="#777" stroke-width="1"/>
<polyline points="381.7,219.2 381.7,223.2" fill="none" stroke="#666" stroke-width="1"/>
<polyline points="390.8,221.2 406,221.2 406,231.4" fill="none" stroke="#aaa" stroke-width="2"/>
<text x="373.4" y="231" font-size="4.8" font-weight="bold" fill="#000" stroke="#000" stroke-width="0.18" xml:space="preserve">R11</text>
<text x="387" y="231" font-size="4.8" font-weight="bold" fill="#000" stroke="#000" stroke-width="0.18" xml:space="preserve">1k</text>
<rect x="402.3" y="231.4" width="8" height="18.3" fill="#fff" stroke="#777" stroke-width="1"/>
<polyline points="406,249.7 406,272" fill="none" stroke="#aaa" stroke-width="2"/>
<path d="M406,265.8 L401,257.9 L411,257.9 Z" fill="#000" stroke="#000" stroke-width="0.6"/>
<rect x="401" y="265.15" width="10" height="1.3" fill="#000"/>
<rect x="400.5" y="271.2" width="11" height="1.6" fill="#000"/>
<polyline points="431.8,250 431.8,239.5 411,239.5" fill="none" stroke="#888" stroke-width="1"/>
<path d="M411,239.5 L413.6,237.6 M411,239.5 L413.6,241.4" fill="none" stroke="#666" stroke-width="0.8"/>
<text x="414.5" y="246.3" font-size="4.8" font-weight="bold" fill="#000" stroke="#000" stroke-width="0.18" xml:space="preserve">R14</text>
<text x="414.5" y="253.6" font-size="4.8" font-weight="bold" fill="#000" stroke="#000" stroke-width="0.18" xml:space="preserve">1k</text>
<text x="389.2" y="262.3" font-size="4.8" font-weight="bold" fill="#000" stroke="#000" stroke-width="0.18" xml:space="preserve">VD9</text>
<rect x="427.6" y="249.7" width="8" height="17.2" fill="#fff" stroke="#777" stroke-width="1"/>
<polyline points="429,253.48 434.4,260.71" fill="none" stroke="#444" stroke-width="1"/>
<polyline points="431.6,266.9 431.6,337" fill="none" stroke="#aaa" stroke-width="2"/>
<text x="436.3" y="256.8" font-size="4.8" font-weight="bold" fill="#000" stroke="#000" stroke-width="0.18" xml:space="preserve">R16</text>
<text x="436.3" y="262" font-size="4.8" font-weight="bold" fill="#000" stroke="#000" stroke-width="0.18" xml:space="preserve">360</text>
<circle cx="400.9" cy="125.8" r="12.7" fill="none" stroke="#777" stroke-width="1.1"/>
<rect x="395.1" y="117.7" width="11.6" height="1.4" fill="#000"/>
<line x1="391.3" y1="121.2" x2="412.4" y2="121.2" stroke="#666" stroke-width="1" stroke-dasharray="5,1.4"/>
<line x1="391.3" y1="123.7" x2="412.4" y2="123.7" stroke="#666" stroke-width="1" stroke-dasharray="5,1.4"/>
<line x1="391.3" y1="126.4" x2="412.4" y2="126.4" stroke="#666" stroke-width="1" stroke-dasharray="5,1.4"/>
<path d="M393.4,134.3 A7.5,6 0 0 1 408.4,134.3" fill="none" stroke="#000" stroke-width="1.4"/>
<path d="M395.7,141.8 L395.7,136.3 A5.5,5 0 0 1 406.1,136.3 L406.1,141.8" fill="none" stroke="#999" stroke-width="1.2"/>
<polyline points="401,80 401,118" fill="none" stroke="#aaa" stroke-width="2"/>
<polyline points="375,113.4 386.5,113.4" fill="none" stroke="#000" stroke-width="1.6"/>
<polyline points="380.2,113.4 380.2,121.4 389,121.4" fill="none" stroke="#aaa" stroke-width="1.5"/>
<polyline points="380.7,136.6 380.7,126.2 389,126.2" fill="none" stroke="#aaa" stroke-width="1.5"/>
<rect x="376.45" y="136.6" width="8.5" height="17.6" fill="#fff" stroke="#777" stroke-width="1"/>
<polyline points="377.85,140.47 383.75,147.86" fill="none" stroke="#444" stroke-width="1"/>
<polyline points="380.7,154.2 380.7,164.7" fill="none" stroke="#aaa" stroke-width="2"/>
<rect x="374.7" y="164" width="12" height="1.6" fill="#000"/>
<text x="385.6" y="143" font-size="4.8" font-weight="bold" fill="#000" stroke="#000" stroke-width="0.18" xml:space="preserve">R12</text>
<text x="386.5" y="148.3" font-size="4.8" font-weight="bold" fill="#000" stroke="#000" stroke-width="0.18" xml:space="preserve">10</text>
<text x="406" y="104.8" font-size="5" font-weight="bold" fill="#000" stroke="#000" stroke-width="0.18" xml:space="preserve">VL1</text>
<polyline points="395.8,140 395.8,159.4 548,159.4" fill="none" stroke="#999" stroke-width="1.5"/>
<polyline points="406,140 406,149.2 548,149.2" fill="none" stroke="#999" stroke-width="1.5"/>
<polyline points="408.6,137 408.6,169" fill="none" stroke="#aaa" stroke-width="2"/>
<rect x="404.85" y="169" width="7.5" height="18.8" fill="#fff" stroke="#777" stroke-width="1"/>
<polyline points="408.6,174.4 408.6,182.4" fill="none" stroke="#999" stroke-width="1.2"/>
<polyline points="408.6,187.8 408.6,198" fill="none" stroke="#aaa" stroke-width="2"/>
<text x="414" y="176.8" font-size="4.8" font-weight="bold" fill="#000" stroke="#000" stroke-width="0.18" xml:space="preserve">R15</text>
<text x="414.5" y="183" font-size="4.8" font-weight="bold" fill="#000" stroke="#000" stroke-width="0.18" xml:space="preserve">1</text>
<polyline points="413.6,123.5 488.4,123.5" fill="none" stroke="#aaa" stroke-width="2"/>
<polyline points="513.4,123.5 532,123.5" fill="none" stroke="#aaa" stroke-width="2"/>
<polyline points="431.6,85 431.6,95.5" fill="none" stroke="#aaa" stroke-width="2"/>
<rect x="427.6" y="95.5" width="8" height="17.5" fill="#fff" stroke="#777" stroke-width="1"/>
<polyline points="429,99.35 434.4,106.7" fill="none" stroke="#444" stroke-width="1"/>
<polyline points="431.6,113 431.6,137" fill="none" stroke="#aaa" stroke-width="2"/>
<rect x="426.1" y="129.9" width="11" height="2.8" fill="#000"/>
<rect x="426.1" y="134.9" width="11" height="2.8" fill="#000"/>
<rect x="425.85" y="145.5" width="11.5" height="1.6" fill="#000"/>
<polyline points="431.6,136.3 431.6,146.3" fill="none" stroke="#aaa" stroke-width="2"/>
<text x="437" y="101.8" font-size="4.8" font-weight="bold" fill="#000" stroke="#000" stroke-width="0.18" xml:space="preserve">R17</text>
<text x="437" y="107.2" font-size="4.8" font-weight="bold" fill="#000" stroke="#000" stroke-width="0.18" xml:space="preserve">100</text>
<text x="437.5" y="133.6" font-size="4.8" font-weight="bold" fill="#000" stroke="#000" stroke-width="0.18" xml:space="preserve">C14</text>
<text x="437.5" y="139.8" font-size="4.8" font-weight="bold" fill="#000" stroke="#000" stroke-width="0.18" xml:space="preserve">2H2</text>
<polyline points="465.5,85 465.5,95.5" fill="none" stroke="#aaa" stroke-width="2"/>
<rect x="461.5" y="95.5" width="8" height="17.5" fill="#fff" stroke="#777" stroke-width="1"/>
<polyline points="462.9,99.35 468.3,106.7" fill="none" stroke="#444" stroke-width="1"/>
<polyline points="465.5,113 465.5,146.3" fill="none" stroke="#aaa" stroke-width="2"/>
<rect x="460" y="129.9" width="11" height="2.8" fill="#000"/>
<rect x="460" y="134.9" width="11" height="2.8" fill="#000"/>
<rect x="459.75" y="145.5" width="11.5" height="1.6" fill="#000"/>
<text x="470.6" y="101.8" font-size="4.8" font-weight="bold" fill="#000" stroke="#000" stroke-width="0.18" xml:space="preserve">R19</text>
<text x="470.6" y="107.2" font-size="4.8" font-weight="bold" fill="#000" stroke="#000" stroke-width="0.18" xml:space="preserve">100</text>
<text x="471" y="133.6" font-size="4.8" font-weight="bold" fill="#000" stroke="#000" stroke-width="0.18" xml:space="preserve">C15</text>
<text x="471" y="139.8" font-size="4.8" font-weight="bold" fill="#000" stroke="#000" stroke-width="0.18" xml:space="preserve">2H2</text>
<circle cx="500.9" cy="125.8" r="12.7" fill="none" stroke="#777" stroke-width="1.1"/>
<rect x="495.1" y="117.7" width="11.6" height="1.4" fill="#000"/>
<line x1="491.3" y1="121.2" x2="512.4" y2="121.2" stroke="#666" stroke-width="1" stroke-dasharray="5,1.4"/>
<line x1="491.3" y1="123.7" x2="512.4" y2="123.7" stroke="#666" stroke-width="1" stroke-dasharray="5,1.4"/>
<line x1="491.3" y1="126.4" x2="512.4" y2="126.4" stroke="#666" stroke-width="1" stroke-dasharray="5,1.4"/>
<path d="M493.4,134.3 A7.5,6 0 0 1 508.4,134.3" fill="none" stroke="#000" stroke-width="1.4"/>
<path d="M495.7,141.8 L495.7,136.3 A5.5,5 0 0 1 506.1,136.3 L506.1,141.8" fill="none" stroke="#999" stroke-width="1.2"/>
<polyline points="501,80 501,118" fill="none" stroke="#aaa" stroke-width="2"/>
<polyline points="513.5,113 525,113" fill="none" stroke="#000" stroke-width="1.6"/>
<polyline points="519.5,113 519.5,121.2 512,121.2" fill="none" stroke="#aaa" stroke-width="1.5"/>
<text x="506.2" y="104.8" font-size="5" font-weight="bold" fill="#000" stroke="#000" stroke-width="0.18" xml:space="preserve">VL2</text>
<rect x="526.5" y="99.4" width="11" height="1.6" fill="#000"/>
<polyline points="532,100.2 532,123.5" fill="none" stroke="#aaa" stroke-width="2"/>
<rect x="526.5" y="107.9" width="11" height="2.8" fill="#000"/>
<rect x="526.5" y="113.1" width="11" height="2.8" fill="#000"/>
<text x="538" y="111" font-size="4.8" font-weight="bold" fill="#000" stroke="#000" stroke-width="0.18" xml:space="preserve">C17</text>
<text x="538.5" y="117.4" font-size="4.8" font-weight="bold" fill="#000" stroke="#000" stroke-width="0.18" xml:space="preserve">2H2</text>
<rect x="551.95" y="87" width="11.5" height="1.6" fill="#000"/>
<polyline points="557.7,87.8 557.7,97.7" fill="none" stroke="#aaa" stroke-width="2"/>
<rect x="553.95" y="97.7" width="7.5" height="18.2" fill="#fff" stroke="#777" stroke-width="1"/>
<polyline points="555.35,101.7 560.25,109.35" fill="none" stroke="#444" stroke-width="1"/>
<polyline points="557.7,115.9 557.7,126 513.4,126" fill="none" stroke="#aaa" stroke-width="1.5"/>
<text x="561.8" y="104.8" font-size="4.8" font-weight="bold" fill="#000" stroke="#000" stroke-width="0.18" xml:space="preserve">R24</text>
<text x="563" y="110" font-size="4.8" font-weight="bold" fill="#000" stroke="#000" stroke-width="0.18" xml:space="preserve">10</text>
<polyline points="495.6,140 495.6,159.4" fill="none" stroke="#999" stroke-width="1.5"/>
<polyline points="506,140 506,149.2" fill="none" stroke="#999" stroke-width="1.5"/>
<polyline points="508.5,137 508.5,169.7" fill="none" stroke="#aaa" stroke-width="2"/>
<rect x="504.95" y="169.7" width="7.5" height="18.1" fill="#fff" stroke="#777" stroke-width="1"/>
<polyline points="508.7,174.75 508.7,182.75" fill="none" stroke="#999" stroke-width="1.2"/>
<polyline points="508.7,187.8 508.7,198" fill="none" stroke="#aaa" stroke-width="2"/>
<text x="513.8" y="176.8" font-size="4.8" font-weight="bold" fill="#000" stroke="#000" stroke-width="0.18" xml:space="preserve">R22</text>
<text x="514.5" y="183" font-size="4.8" font-weight="bold" fill="#000" stroke="#000" stroke-width="0.18" xml:space="preserve">1</text>
<polyline points="457.4,198 457.4,272" fill="none" stroke="#aaa" stroke-width="2"/>
<path d="M548.2,149.2 A2.97,2.68 0 0 0 554.15,149.2 A2.97,2.68 0 0 0 560.1,149.2 A2.97,2.68 0 0 0 566.05,149.2 A2.97,2.68 0 0 0 572,149.2" fill="none" stroke="#777" stroke-width="1.2"/>
<path d="M548.2,159.4 A2.97,2.68 0 0 1 554.15,159.4 A2.97,2.68 0 0 1 560.1,159.4 A2.97,2.68 0 0 1 566.05,159.4 A2.97,2.68 0 0 1 572,159.4" fill="none" stroke="#777" stroke-width="1.2"/>
<polyline points="548,154.5 572,154.5" fill="none" stroke="#999" stroke-width="1"/>
<text x="555" y="144.4" font-size="5" font-weight="bold" fill="#000" stroke="#000" stroke-width="0.18" xml:space="preserve">L6</text>
<polyline points="572,149.2 619.3,149.2" fill="none" stroke="#aaa" stroke-width="2"/>
<polyline points="572,159.4 619.3,159.4" fill="none" stroke="#aaa" stroke-width="2"/>
<rect x="575.25" y="125.2" width="11.5" height="1.6" fill="#000"/>
<polyline points="580.7,126 580.7,149.2" fill="none" stroke="#aaa" stroke-width="2"/>
<rect x="575.45" y="133.5" width="10.5" height="2.8" fill="#000"/>
<rect x="575.45" y="138.9" width="10.5" height="2.8" fill="#000"/>
<text x="586.8" y="136.6" font-size="4.8" font-weight="bold" fill="#000" stroke="#000" stroke-width="0.18" xml:space="preserve">C20</text>
<text x="586.8" y="143.3" font-size="4.8" font-weight="bold" fill="#000" stroke="#000" stroke-width="0.18" xml:space="preserve">6800</text>
<polyline points="580.7,159.4 580.7,182.8" fill="none" stroke="#aaa" stroke-width="2"/>
<rect x="575.45" y="166.6" width="10.5" height="2.8" fill="#000"/>
<rect x="575.45" y="172.4" width="10.5" height="2.8" fill="#000"/>
<rect x="574.95" y="182.1" width="11.5" height="1.6" fill="#000"/>
<text x="586.8" y="171" font-size="4.8" font-weight="bold" fill="#000" stroke="#000" stroke-width="0.18" xml:space="preserve">C21</text>
<text x="586.8" y="178" font-size="4.8" font-weight="bold" fill="#000" stroke="#000" stroke-width="0.18" xml:space="preserve">6800</text>
<path d="M623.5,152.6 C627,149.6 630,150.4 632.6,153 S638.4,156.6 641.8,153.4" fill="none" stroke="#777" stroke-width="0.9"/>
<text x="650" y="155.4" font-size="6.4" font-weight="bold" fill="#000" stroke="#000" stroke-width="0.18" xml:space="preserve">6,3 V</text>
<text x="673" y="155.4" font-size="6.55" font-weight="bold" fill="#000" stroke="#000" stroke-width="0.18" xml:space="preserve">накал ламп</text>
<path d="M519.5,198 A2.51,2.26 0 0 1 524.52,198 A2.51,2.26 0 0 1 529.55,198 A2.51,2.26 0 0 1 534.58,198 A2.51,2.26 0 0 1 539.6,198" fill="none" stroke="#777" stroke-width="1.2"/>
<polyline points="520.5,194.24 538.6,194.24" fill="none" stroke="#888" stroke-width="1.2"/>
<text x="527" y="190.2" font-size="5" font-weight="bold" fill="#000" stroke="#000" stroke-width="0.18" xml:space="preserve">L7</text>
<polyline points="539.6,198 570,198" fill="none" stroke="#aaa" stroke-width="2"/>
<polyline points="549.6,198 549.6,221" fill="none" stroke="#aaa" stroke-width="2"/>
<rect x="544.35" y="206.6" width="10.5" height="2.8" fill="#000"/>
<rect x="544.35" y="212" width="10.5" height="2.8" fill="#000"/>
<rect x="544.1" y="220.4" width="11" height="1.6" fill="#000"/>
<text x="554" y="208.6" font-size="4.6" font-weight="bold" fill="#000" stroke="#000" stroke-width="0.18" xml:space="preserve">C22</text>
<text x="553.5" y="214.8" font-size="4.6" font-weight="bold" fill="#000" stroke="#000" stroke-width="0.18" xml:space="preserve">2H2</text>
<text x="513.8" y="208.6" font-size="4.6" font-weight="bold" fill="#000" stroke="#000" stroke-width="0.18" xml:space="preserve"></text>
<path d="M570,198 L579,193 L579,203 Z" fill="#000" stroke="#000" stroke-width="0.6"/>
<rect x="569.35" y="193" width="1.3" height="10" fill="#000"/>
<polyline points="579,198 597,198" fill="none" stroke="#aaa" stroke-width="2"/>
<text x="570" y="191" font-size="4.8" font-weight="bold" fill="#000" stroke="#000" stroke-width="0.18" xml:space="preserve">VD11</text>
<circle cx="609.1" cy="204.4" r="14.4" fill="none" stroke="#777" stroke-width="1.1"/>
<rect x="601.5" y="212.2" width="15.3" height="2.2" fill="#000"/>
<polyline points="596.5,198 605,212" fill="none" stroke="#666" stroke-width="1.2"/>
<polyline points="613,212 621,198.5" fill="none" stroke="#666" stroke-width="1.2"/>
<path d="M613.6,211.6 L614.4,206.2 L617.6,208.2 Z" fill="#000" stroke="#000" stroke-width="0.6"/>
<polyline points="621,198 691.6,198" fill="none" stroke="#aaa" stroke-width="2"/>
<polyline points="609,213 609,266" fill="none" stroke="#aaa" stroke-width="2"/>
<text x="600" y="187" font-size="4.8" font-weight="bold" fill="#000" stroke="#000" stroke-width="0.18" xml:space="preserve">VT5</text>
<text x="614.2" y="186.6" font-size="6.7" font-weight="normal" fill="#333" xml:space="preserve">(на радиаторе)</text>
<polyline points="663,198 663,221.7" fill="none" stroke="#aaa" stroke-width="2"/>
<circle cx="662.5" cy="229.4" r="14.3" fill="none" stroke="#777" stroke-width="1.1"/>
<rect x="655.3" y="220.6" width="15.3" height="2.2" fill="#000"/>
<polyline points="657.5,222.5 648.5,236.8" fill="none" stroke="#666" stroke-width="1.2"/>
<polyline points="667.5,222.5 676.5,236.8" fill="none" stroke="#666" stroke-width="1.2"/>
<text x="667.2" y="212.3" font-size="4.8" font-weight="bold" fill="#000" stroke="#000" stroke-width="0.18" xml:space="preserve">VT6</text>
<polyline points="609,236.8 648.5,236.8" fill="none" stroke="#aaa" stroke-width="2"/>
<polyline points="676.5,236.8 724.6,236.8" fill="none" stroke="#aaa" stroke-width="2"/>
<polyline points="691.6,198 691.6,207.9" fill="none" stroke="#aaa" stroke-width="2"/>
<rect x="687.65" y="207.9" width="7.5" height="18.8" fill="#fff" stroke="#777" stroke-width="1"/>
<polyline points="689.05,212.04 693.95,219.93" fill="none" stroke="#444" stroke-width="1"/>
<polyline points="691.6,226.7 691.6,236.8" fill="none" stroke="#aaa" stroke-width="2"/>
<text x="696" y="215" font-size="4.8" font-weight="bold" fill="#000" stroke="#000" stroke-width="0.18" xml:space="preserve">R27</text>
<text x="696" y="220.6" font-size="4.8" font-weight="bold" fill="#000" stroke="#000" stroke-width="0.18" xml:space="preserve">0,25</text>
<text x="712" y="247.4" font-size="6" font-weight="bold" fill="#000" stroke="#000" stroke-width="0.18" xml:space="preserve">+ 60 V</text>
<rect x="603.75" y="254.2" width="10.5" height="2.8" fill="#000"/>
<rect x="603.75" y="259.2" width="10.5" height="2.8" fill="#000"/>
<rect x="603.25" y="273.8" width="11.5" height="1.6" fill="#000"/>
<polyline points="609,260.6 609,274.6" fill="none" stroke="#aaa" stroke-width="2"/>
<text x="615" y="257.6" font-size="4.8" font-weight="bold" fill="#000" stroke="#000" stroke-width="0.18" xml:space="preserve">C23</text>
<text x="615" y="264" font-size="4.8" font-weight="bold" fill="#000" stroke="#000" stroke-width="0.18" xml:space="preserve">47H</text>
<polyline points="635,236.8 635,245.5" fill="none" stroke="#aaa" stroke-width="2"/>
<rect x="631" y="245.5" width="8" height="20.1" fill="#fff" stroke="#777" stroke-width="1"/>
<polyline points="632.4,249.92 637.8,258.36" fill="none" stroke="#444" stroke-width="1"/>
<polyline points="635,265.6 635,274.6" fill="none" stroke="#aaa" stroke-width="2"/>
<rect x="629.25" y="273.8" width="11.5" height="1.6" fill="#000"/>
<text x="640.4" y="254" font-size="4.8" font-weight="bold" fill="#000" stroke="#000" stroke-width="0.18" xml:space="preserve">R26</text>
<text x="640.4" y="260" font-size="4.8" font-weight="bold" fill="#000" stroke="#000" stroke-width="0.18" xml:space="preserve">10K</text>
<polyline points="303.5,285.6 369,285.6" fill="none" stroke="#aaa" stroke-width="2"/>
<polyline points="373.4,285.6 402.4,285.6" fill="none" stroke="#aaa" stroke-width="2"/>
<polyline points="407.2,285.6 443,285.6" fill="none" stroke="#aaa" stroke-width="2"/>
<polyline points="303.5,285.6 303.5,295" fill="none" stroke="#aaa" stroke-width="2"/>
<path d="M303.5,295 A2.2,2.88 0 0 1 303.5,300.75 A2.2,2.88 0 0 1 303.5,306.5 A2.2,2.88 0 0 1 303.5,312.25 A2.2,2.88 0 0 1 303.5,318" fill="none" stroke="#777" stroke-width="1.1"/>
<polyline points="303.5,318 303.5,326.6 298,326.6" fill="none" stroke="#aaa" stroke-width="2"/>
<rect x="313.05" y="276.8" width="11.5" height="1.6" fill="#000"/>
<polyline points="318.8,277.6 318.8,291.5" fill="none" stroke="#888" stroke-width="1.2"/>
<polyline points="318.8,291 317.2,292.5 317.2,295" fill="none" stroke="#888" stroke-width="1.2"/>
<path d="M317.2,295 A2.2,2.88 0 0 1 317.2,300.75 A2.2,2.88 0 0 1 317.2,306.5 A2.2,2.88 0 0 1 317.2,312.25 A2.2,2.88 0 0 1 317.2,318" fill="none" stroke="#777" stroke-width="1.1"/>
<polyline points="317.2,318 317.2,326.6 328.7,326.6 328.7,285.6" fill="none" stroke="#aaa" stroke-width="2"/>
<polyline points="311.1,296 311.1,326" fill="none" stroke="#999" stroke-width="1.2"/>
<text x="285.5" y="311.6" font-size="6.2" font-weight="bold" fill="#000" stroke="#000" stroke-width="0.18" xml:space="preserve">TP1</text>
<path d="M232.4,326 c3,-2.6 6,-2.6 9.4,0 s6.4,2.6 9.4,0 M232.4,330 c3,-2.6 6,-2.6 9.4,0 s6.4,2.6 9.4,0 M232.4,334 c3,-2.6 6,-2.6 9.4,0 s6.4,2.6 9.4,0" fill="none" stroke="#666" stroke-width="0.9"/>
<text x="256.6" y="332.9" font-size="6.7" font-weight="bold" fill="#000" stroke="#000" stroke-width="0.18" xml:space="preserve">7 V</text>
<circle cx="285" cy="326.6" r="2.4" fill="#fff" stroke="#888" stroke-width="1"/>
<polyline points="275,326.6 282.6,326.6" fill="none" stroke="#aaa" stroke-width="2"/>
<polyline points="287.4,326.6 298,326.6" fill="none" stroke="#aaa" stroke-width="2"/>
<polyline points="275,334.6 285,334.6" fill="none" stroke="#aaa" stroke-width="2"/>
<polyline points="285,329 285,342" fill="none" stroke="#aaa" stroke-width="2"/>
<rect x="279.75" y="341.4" width="11.5" height="1.6" fill="#000"/>
<polyline points="298,326.6 298,365" fill="none" stroke="#aaa" stroke-width="2"/>
<rect x="292.75" y="349.6" width="10.5" height="2.8" fill="#000"/>
<rect x="292.75" y="354.8" width="10.5" height="2.8" fill="#000"/>
<rect x="292.25" y="364.4" width="11.5" height="1.6" fill="#000"/>
<text x="304.3" y="353.3" font-size="4.8" font-weight="bold" fill="#000" stroke="#000" stroke-width="0.18" xml:space="preserve">C24</text>
<text x="306" y="359.6" font-size="4.8" font-weight="bold" fill="#000" stroke="#000" stroke-width="0.18" xml:space="preserve">39</text>
<polyline points="352.2,308.4 338.8,308.4 338.8,319" fill="none" stroke="#aaa" stroke-width="2"/>
<path d="M338.8,319 A2.6,3 0 0 0 338.8,325 A2.6,3 0 0 0 338.8,331 A2.6,3 0 0 0 338.8,337 A2.6,3 0 0 0 338.8,343" fill="none" stroke="#777" stroke-width="1.1"/>
<polyline points="338.8,343 338.8,350" fill="none" stroke="#aaa" stroke-width="2"/>
<rect x="333.05" y="349.3" width="11.5" height="1.6" fill="#000"/>
<text x="326.6" y="341.3" font-size="4.8" font-weight="bold" fill="#000" stroke="#000" stroke-width="0.18" xml:space="preserve">L8</text>
<polyline points="352.2,285.6 352.2,319" fill="none" stroke="#aaa" stroke-width="2"/>
<rect x="348.3" y="319" width="8" height="17.6" fill="#fff" stroke="#777" stroke-width="1"/>
<polyline points="349.7,331.32 354.9,324.28" fill="none" stroke="#444" stroke-width="1"/>
<polyline points="352.2,336.6 352.2,350" fill="none" stroke="#aaa" stroke-width="2"/>
<rect x="346.55" y="349.3" width="11.5" height="1.6" fill="#000"/>
<text x="357" y="325.7" font-size="4.6" font-weight="bold" fill="#000" stroke="#000" stroke-width="0.18" xml:space="preserve">R28</text>
<text x="358" y="332" font-size="4.6" font-weight="bold" fill="#000" stroke="#000" stroke-width="0.18" xml:space="preserve">56</text>
<polyline points="352.2,285.6 352.2,272.8 362.4,272.8" fill="none" stroke="#aaa" stroke-width="2"/>
<rect x="362.4" y="269" width="18.3" height="7.6" fill="#fff" stroke="#777" stroke-width="1"/>
<polyline points="366.97,275.3 377.95,270.3" fill="none" stroke="#444" stroke-width="1"/>
<polyline points="380.7,272.8 390.7,272.8 390.7,285.6" fill="none" stroke="#aaa" stroke-width="2"/>
<text x="367" y="262" font-size="4.8" font-weight="bold" fill="#000" stroke="#000" stroke-width="0.18" xml:space="preserve">R29</text>
<text x="371" y="267" font-size="4.8" font-weight="bold" fill="#000" stroke="#000" stroke-width="0.18" xml:space="preserve">10</text>
<rect x="367.75" y="280.5" width="2.9" height="10" fill="#000"/>
<rect x="371.95" y="280.5" width="2.9" height="10" fill="#000"/>
<text x="366.3" y="297.3" font-size="4.8" font-weight="bold" fill="#000" stroke="#000" stroke-width="0.18" xml:space="preserve">C13</text>
<text x="365.8" y="302.8" font-size="4.8" font-weight="bold" fill="#000" stroke="#000" stroke-width="0.18" xml:space="preserve">1000</text>
<rect x="400.95" y="280.5" width="2.9" height="10" fill="#000"/>
<rect x="405.75" y="280.5" width="2.9" height="10" fill="#000"/>
<text x="400" y="297.3" font-size="4.8" font-weight="bold" fill="#000" stroke="#000" stroke-width="0.18" xml:space="preserve">C24</text>
<text x="403" y="302.8" font-size="4.8" font-weight="bold" fill="#000" stroke="#000" stroke-width="0.18" xml:space="preserve">0,1</text>
<rect x="427.6" y="319" width="8" height="18.3" fill="#fff" stroke="#777" stroke-width="1"/>
<polyline points="431.6,324.15 431.6,332.15" fill="none" stroke="#999" stroke-width="1.2"/>
<polyline points="431.6,337.3 431.6,350" fill="none" stroke="#aaa" stroke-width="2"/>
<rect x="425.85" y="349.3" width="11.5" height="1.6" fill="#000"/>
<text x="437.3" y="326.5" font-size="4.6" font-weight="bold" fill="#000" stroke="#000" stroke-width="0.18" xml:space="preserve">R18</text>
<text x="438.3" y="332" font-size="4.6" font-weight="bold" fill="#000" stroke="#000" stroke-width="0.18" xml:space="preserve">82</text>
<circle cx="451.3" cy="285.6" r="14.3" fill="none" stroke="#777" stroke-width="1.1"/>
<rect x="441.9" y="277.5" width="2.2" height="16.5" fill="#000"/>
<polyline points="443.6,281 457.4,272.3" fill="none" stroke="#666" stroke-width="1.2"/>
<polyline points="443.6,290.5 457,297.8" fill="none" stroke="#666" stroke-width="1.2"/>
<path d="M457,297.8 L452,297.8 L453.8,294.4 Z" fill="#000" stroke="#000" stroke-width="0.5"/>
<polyline points="457.4,297.8 457.4,337" fill="none" stroke="#aaa" stroke-width="2"/>
<text x="467.5" y="285.2" font-size="4.8" font-weight="bold" fill="#000" stroke="#000" stroke-width="0.18" xml:space="preserve">VT4</text>
<text x="480.5" y="284.8" font-size="6.7" font-weight="normal" fill="#333" xml:space="preserve">(на радиаторе)</text>
<rect x="453.6" y="319" width="8" height="18.3" fill="#fff" stroke="#777" stroke-width="1"/>
<polyline points="455.4,328.15 459.8,328.15" fill="none" stroke="#888" stroke-width="1.2"/>
<polyline points="457.4,337.3 457.4,350" fill="none" stroke="#aaa" stroke-width="2"/>
<rect x="451.85" y="349.3" width="11.5" height="1.6" fill="#000"/>
<text x="462.5" y="326.5" font-size="4.6" font-weight="bold" fill="#000" stroke="#000" stroke-width="0.18" xml:space="preserve">R20</text>
<text x="462.5" y="332" font-size="4.6" font-weight="bold" fill="#000" stroke="#000" stroke-width="0.18" xml:space="preserve">2,4</text>
<polyline points="457.4,311 476.8,311" fill="none" stroke="#aaa" stroke-width="2"/>
<rect x="475.55" y="306.3" width="2.9" height="10" fill="#000"/>
<rect x="480.35" y="306.3" width="2.9" height="10" fill="#000"/>
<polyline points="481.8,311 503.4,311" fill="none" stroke="#aaa" stroke-width="2"/>
<text x="475.5" y="322.8" font-size="4.6" font-weight="bold" fill="#000" stroke="#000" stroke-width="0.18" xml:space="preserve">C16</text>
<text x="475.3" y="328.3" font-size="4.6" font-weight="bold" fill="#000" stroke="#000" stroke-width="0.18" xml:space="preserve">0,01</text>
<rect x="489.4" y="321.5" width="8" height="17.5" fill="#fff" stroke="#777" stroke-width="1"/>
<polyline points="490.8,325.35 496.2,332.7" fill="none" stroke="#444" stroke-width="1"/>
<polyline points="493,311 493,321.5" fill="none" stroke="#aaa" stroke-width="2"/>
<polyline points="493,339 493,350" fill="none" stroke="#aaa" stroke-width="2"/>
<rect x="487.65" y="349.3" width="11.5" height="1.6" fill="#000"/>
<text x="498.6" y="328.8" font-size="4.6" font-weight="bold" fill="#000" stroke="#000" stroke-width="0.18" xml:space="preserve">R23</text>
<text x="498.6" y="333.6" font-size="4.6" font-weight="bold" fill="#000" stroke="#000" stroke-width="0.18" xml:space="preserve">3K</text>
<path d="M511.6,311.2 L503.4,306.2 L503.4,316.2 Z" fill="#000" stroke="#000" stroke-width="0.6"/>
<rect x="510.95" y="306.2" width="1.3" height="10" fill="#000"/>
<text x="503" y="304.5" font-size="4.8" font-weight="bold" fill="#000" stroke="#000" stroke-width="0.18" xml:space="preserve">VD10</text>
<polyline points="511.6,311 545,311" fill="none" stroke="#aaa" stroke-width="2"/>
<polyline points="519.6,311 519.6,349.5" fill="none" stroke="#aaa" stroke-width="2"/>
<rect x="514.35" y="333.9" width="10.5" height="2.8" fill="#000"/>
<rect x="514.35" y="339.6" width="10.5" height="2.8" fill="#000"/>
<rect x="513.85" y="348.8" width="11.5" height="1.6" fill="#000"/>
<text x="525.5" y="337.7" font-size="4.6" font-weight="bold" fill="#000" stroke="#000" stroke-width="0.18" xml:space="preserve">C18</text>
<text x="525.5" y="343" font-size="4.6" font-weight="bold" fill="#000" stroke="#000" stroke-width="0.18" xml:space="preserve">0,33</text>
<polyline points="544.9,311 544.9,321.4" fill="none" stroke="#aaa" stroke-width="2"/>
<rect x="541.05" y="321.4" width="7.5" height="18.3" fill="#fff" stroke="#777" stroke-width="1"/>
<polyline points="544.9,339.7 544.9,349.5" fill="none" stroke="#aaa" stroke-width="2"/>
<rect x="539.05" y="348.8" width="11.5" height="1.6" fill="#000"/>
<text x="550.3" y="321.5" font-size="4.8" font-weight="bold" fill="#000" stroke="#000" stroke-width="0.18" xml:space="preserve">R25</text>
<text x="550.3" y="328.8" font-size="4.8" font-weight="bold" fill="#000" stroke="#000" stroke-width="0.18" xml:space="preserve">10K</text>
<polyline points="548.6,331.6 575.7,331.6" fill="none" stroke="#999" stroke-width="1.2"/>
<path d="M548.8,331.6 L551.3,329.8 M548.8,331.6 L551.3,333.4" fill="none" stroke="#666" stroke-width="0.8"/>
<circle cx="578.1" cy="331.6" r="2.4" fill="#fff" stroke="#888" stroke-width="1"/>
<polyline points="580.5,331.6 585.8,331.6" fill="none" stroke="#999" stroke-width="1.2"/>
<polyline points="578.1,342 585.8,342" fill="none" stroke="#999" stroke-width="1.2"/>
<polyline points="578.1,334 578.1,349.5" fill="none" stroke="#999" stroke-width="1.5"/>
<rect x="572.9" y="348.8" width="11" height="1.6" fill="#000"/>
<text x="593" y="337.8" font-size="6.25" font-weight="bold" fill="#000" stroke="#000" stroke-width="0.18" xml:space="preserve">вых. ALS</text>
<text x="634.8" y="385.8" font-size="10.6" font-weight="normal" fill="#000" xml:space="preserve">UT5TC</text>
<text x="619.5" y="403.1" font-size="10.9" font-weight="normal" fill="#000" xml:space="preserve">Ю.А.Петров</text>
<text x="621.6" y="422.9" font-size="9.4" font-weight="normal" fill="#000" xml:space="preserve">Харьков 2003г.</text>
<text transform="translate(20.5,409.6) scale(1,1.12)" x="0" y="0" font-size="8.8" font-weight="bold" fill="#000" stroke="#000" stroke-width="0.22" textLength="91.5" lengthAdjust="spacing" xml:space="preserve">VT1,VT2,VT3 - КТ315Г</text>
<text transform="translate(20.5,419.7) scale(1,1.12)" x="0" y="0" font-size="8.8" font-weight="bold" fill="#000" stroke="#000" stroke-width="0.22" textLength="68.5" lengthAdjust="spacing" xml:space="preserve">VT4 - КТ922Б (Г)</text>
<text transform="translate(20.5,429.2) scale(1,1.12)" x="0" y="0" font-size="8.8" font-weight="bold" fill="#000" stroke="#000" stroke-width="0.22" textLength="66.1" lengthAdjust="spacing" xml:space="preserve">VT5 - КТ814Г(В)</text>
<text transform="translate(20.5,440.5) scale(1,1.12)" x="0" y="0" font-size="8.8" font-weight="bold" fill="#000" stroke="#000" stroke-width="0.22" textLength="69.5" lengthAdjust="spacing" xml:space="preserve">VT6 - КТ502Е (Д)</text>
<text transform="translate(20.5,456) scale(1,1.12)" x="0" y="0" font-size="8.8" font-weight="bold" fill="#000" stroke="#000" stroke-width="0.22" textLength="68.1" lengthAdjust="spacing" xml:space="preserve">VL1,VL2 - 6П45С</text>
<text transform="translate(20.5,469.1) scale(1,1.12)" x="0" y="0" font-size="8.8" font-weight="bold" fill="#000" stroke="#000" stroke-width="0.22" textLength="155.2" lengthAdjust="spacing" xml:space="preserve">VD1,VD2,VD4,VD5,VD9,VD10  -  КД522</text>
<text transform="translate(20.5,479.9) scale(1,1.12)" x="0" y="0" font-size="8.8" font-weight="bold" fill="#000" stroke="#000" stroke-width="0.22" textLength="51" lengthAdjust="spacing" xml:space="preserve">VD3 - Д814Д</text>
<text transform="translate(20.5,489.7) scale(1,1.12)" x="0" y="0" font-size="8.8" font-weight="bold" fill="#000" stroke="#000" stroke-width="0.22" textLength="50.5" lengthAdjust="spacing" xml:space="preserve">VD6 - Д817А</text>
<text transform="translate(20.5,499.9) scale(1,1.12)" x="0" y="0" font-size="8.8" font-weight="bold" fill="#000" stroke="#000" stroke-width="0.22" textLength="69.1" lengthAdjust="spacing" xml:space="preserve">VD7,VD8 - КД510</text>
<text transform="translate(20.5,510.1) scale(1,1.12)" x="0" y="0" font-size="8.8" font-weight="bold" fill="#000" stroke="#000" stroke-width="0.22" textLength="54.6" lengthAdjust="spacing" xml:space="preserve">VD11 - КД102</text>
<text transform="translate(20.5,525.8) scale(1,1.12)" x="0" y="0" font-size="8.8" font-weight="bold" fill="#000" stroke="#000" stroke-width="0.22" textLength="64.1" lengthAdjust="spacing" xml:space="preserve">DD1 - К 561ЛН2</text>
<text transform="translate(187.4,409.7) scale(1,1.12)" x="0" y="0" font-size="8.8" font-weight="bold" fill="#000" stroke="#000" stroke-width="0.22" textLength="90.7" lengthAdjust="spacing" xml:space="preserve">L1 - ДПМ 0,6   60мкГн</text>
<text transform="translate(187.4,419.9) scale(1,1.12)" x="0" y="0" font-size="8.8" font-weight="bold" fill="#000" stroke="#000" stroke-width="0.22" textLength="90.7" lengthAdjust="spacing" xml:space="preserve">L2 - ДПМ 02    80мкГн</text>
<text transform="translate(187.4,429.6) scale(1,1.12)" x="0" y="0" font-size="8.8" font-weight="bold" fill="#000" stroke="#000" stroke-width="0.22" textLength="95.9" lengthAdjust="spacing" xml:space="preserve">L7 - ДПМ 0,2   200мкГн</text>
<text transform="translate(187.4,442.6) scale(1,1.12)" x="0" y="0" font-size="8.8" font-weight="bold" fill="#000" stroke="#000" stroke-width="0.22" textLength="88.6" lengthAdjust="spacing" xml:space="preserve">L8 - ДПМ 0,2     2мкГн</text>
<text transform="translate(187.4,455.9) scale(1,1.12)" x="0" y="0" font-size="8.8" font-weight="bold" fill="#000" stroke="#000" stroke-width="0.22" textLength="418.6" lengthAdjust="spacing" xml:space="preserve">L3  - проводом  0,25 мм  на каркасе 12мм  на длинне 120мм намотка виток к витку, без разрядки.</text>
<text transform="translate(187.4,469.3) scale(1,1.12)" x="0" y="0" font-size="8.8" font-weight="bold" fill="#000" stroke="#000" stroke-width="0.22" textLength="228.1" lengthAdjust="spacing" xml:space="preserve">L4,L5 - 3 витка на резисторе, проводом  ПЭВ2  2,2мм</text>
<text transform="translate(187.4,481.4) scale(1,1.12)" x="0" y="0" font-size="8.8" font-weight="bold" fill="#000" stroke="#000" stroke-width="0.22" textLength="277.1" lengthAdjust="spacing" xml:space="preserve">L6 - на кольце К28х16х9   2000НМ  4 витка в 2 провода МГШВ 0,5</text>
<text transform="translate(187.4,494.5) scale(1,1.12)" x="0" y="0" font-size="8.8" font-weight="bold" fill="#000" stroke="#000" stroke-width="0.22" textLength="461.6" lengthAdjust="spacing" xml:space="preserve">ТР1 - на кольце К12х6х4,5  400НН  9 витков  в 2 провода , 3 скрутки на 1 см длинны, проводом ПЭВ-2   0,51</text>
<text transform="translate(187.4,509.8) scale(1,1.12)" x="0" y="0" font-size="8.8" font-weight="bold" fill="#000" stroke="#000" stroke-width="0.22" textLength="120" lengthAdjust="spacing" xml:space="preserve">Реле К1 - П1В,    К2 -  РЭС64</text>
<text transform="translate(187.4,525.3) scale(1,1.12)" x="0" y="0" font-size="8.8" font-weight="bold" fill="#000" stroke="#000" stroke-width="0.22" textLength="250.6" lengthAdjust="spacing" xml:space="preserve">Конденсаторы С19 - КВИ 3    3,3кВ,    С7 и С8 - К15-5   2,2кВ</text>
<circle cx="23" cy="39" r="1.9" fill="#000"/>
<circle cx="231" cy="39" r="1.9" fill="#000"/>
<circle cx="264.5" cy="39" r="1.9" fill="#000"/>
<circle cx="295.5" cy="39" r="1.9" fill="#000"/>
<circle cx="347" cy="39" r="1.9" fill="#000"/>
<circle cx="401" cy="39" r="1.9" fill="#000"/>
<circle cx="419" cy="39" r="1.9" fill="#000"/>
<circle cx="401" cy="80" r="1.9" fill="#000"/>
<circle cx="501" cy="39" r="1.9" fill="#000"/>
<circle cx="519.5" cy="39" r="1.9" fill="#000"/>
<circle cx="501" cy="80" r="1.9" fill="#000"/>
<circle cx="21" cy="85" r="1.9" fill="#000"/>
<circle cx="272.3" cy="85" r="1.9" fill="#000"/>
<circle cx="290.3" cy="85" r="1.9" fill="#000"/>
<circle cx="323.6" cy="85" r="1.9" fill="#000"/>
<circle cx="347.2" cy="85" r="1.9" fill="#000"/>
<circle cx="20" cy="98" r="1.9" fill="#000"/>
<circle cx="216.1" cy="129" r="1.9" fill="#000"/>
<circle cx="85.2" cy="128.6" r="1.9" fill="#000"/>
<circle cx="105.8" cy="128.6" r="1.9" fill="#000"/>
<circle cx="85.2" cy="182.4" r="1.9" fill="#000"/>
<circle cx="105.8" cy="162.1" r="1.9" fill="#000"/>
<circle cx="105.8" cy="190.4" r="1.9" fill="#000"/>
<circle cx="105.5" cy="242" r="1.9" fill="#000"/>
<circle cx="20.9" cy="182.4" r="1.9" fill="#000"/>
<circle cx="36.3" cy="182.4" r="1.9" fill="#000"/>
<circle cx="20.9" cy="190.4" r="1.9" fill="#000"/>
<circle cx="25.6" cy="190.4" r="1.9" fill="#000"/>
<circle cx="59" cy="275" r="1.9" fill="#000"/>
<circle cx="139.2" cy="275" r="1.9" fill="#000"/>
<circle cx="179.7" cy="275" r="1.9" fill="#000"/>
<circle cx="17.6" cy="298.4" r="1.9" fill="#000"/>
<circle cx="59" cy="298.4" r="1.9" fill="#000"/>
<circle cx="267.4" cy="128.6" r="1.9" fill="#000"/>
<circle cx="267.4" cy="152" r="1.9" fill="#000"/>
<circle cx="267.6" cy="210.6" r="1.9" fill="#000"/>
<circle cx="288" cy="210.6" r="1.9" fill="#000"/>
<circle cx="288" cy="221.2" r="1.9" fill="#000"/>
<circle cx="267.6" cy="236" r="1.9" fill="#000"/>
<circle cx="313.5" cy="133.6" r="1.9" fill="#000"/>
<circle cx="313.5" cy="177" r="1.9" fill="#000"/>
<circle cx="334" cy="221.2" r="1.9" fill="#000"/>
<circle cx="406" cy="252.3" r="1.9" fill="#000"/>
<circle cx="408.6" cy="198" r="1.9" fill="#000"/>
<circle cx="431.6" cy="85" r="1.9" fill="#000"/>
<circle cx="431.6" cy="123.5" r="1.9" fill="#000"/>
<circle cx="465.5" cy="123.5" r="1.9" fill="#000"/>
<circle cx="495.6" cy="159.4" r="1.9" fill="#000"/>
<circle cx="506" cy="149.2" r="1.9" fill="#000"/>
<circle cx="508.7" cy="198" r="1.9" fill="#000"/>
<circle cx="457.4" cy="198" r="1.9" fill="#000"/>
<circle cx="547.6" cy="144" r="1.9" fill="#000"/>
<circle cx="547.6" cy="162.3" r="1.9" fill="#000"/>
<circle cx="580.7" cy="149.2" r="1.9" fill="#000"/>
<circle cx="580.7" cy="159.4" r="1.9" fill="#000"/>
<circle cx="619.3" cy="149.2" r="1.9" fill="#000"/>
<circle cx="619.3" cy="159.4" r="1.9" fill="#000"/>
<circle cx="549.6" cy="198" r="1.9" fill="#000"/>
<circle cx="609" cy="236.8" r="1.9" fill="#000"/>
<circle cx="663" cy="198" r="1.9" fill="#000"/>
<circle cx="635" cy="236.8" r="1.9" fill="#000"/>
<circle cx="691.6" cy="236.8" r="1.9" fill="#000"/>
<circle cx="724.6" cy="236.8" r="1.9" fill="#000"/>
<circle cx="328.7" cy="285.6" r="1.9" fill="#000"/>
<circle cx="352.2" cy="285.6" r="1.9" fill="#000"/>
<circle cx="390.7" cy="285.6" r="1.9" fill="#000"/>
<circle cx="419.2" cy="285.6" r="1.9" fill="#000"/>
<circle cx="431.6" cy="285.6" r="1.9" fill="#000"/>
<circle cx="306" cy="329.6" r="1.9" fill="#000"/>
<circle cx="315.7" cy="329.6" r="1.9" fill="#000"/>
<circle cx="275" cy="326.6" r="1.9" fill="#000"/>
<circle cx="298" cy="326.6" r="1.9" fill="#000"/>
<circle cx="275" cy="334.6" r="1.9" fill="#000"/>
<circle cx="285" cy="334.6" r="1.9" fill="#000"/>
<circle cx="352.2" cy="308.4" r="1.9" fill="#000"/>
<circle cx="457.4" cy="311" r="1.9" fill="#000"/>
<circle cx="493" cy="311" r="1.9" fill="#000"/>
<circle cx="519.6" cy="311" r="1.9" fill="#000"/>
<circle cx="585.8" cy="331.6" r="1.9" fill="#000"/>
<circle cx="578.1" cy="342" r="1.9" fill="#000"/>
<circle cx="585.8" cy="342" r="1.9" fill="#000"/>
</svg>
</body></html>
